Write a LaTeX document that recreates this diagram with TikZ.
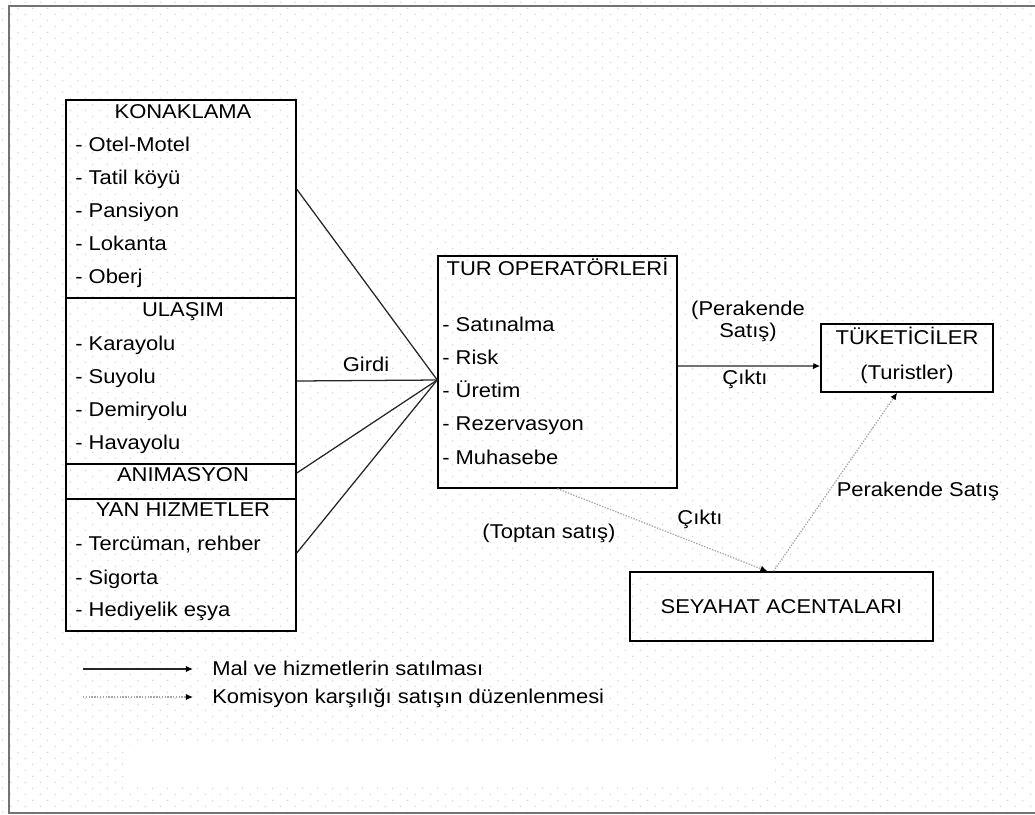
\documentclass[tikz,border=0pt]{standalone}
\usepackage{fontspec}
\setmainfont{Liberation Sans}[FakeStretch=1.1]
\usetikzlibrary{arrows.meta,patterns.meta}

\tikzdeclarepattern{
	name=pagedots,
	type=uncolored,
	bottom left={(0pt,0pt)},
	top right={(10.6pt,8.5pt)},
	tile size={(10.6pt,8.5pt)},
	code={
		\fill (2pt,2pt) circle (0.45pt);
		\fill (7.3pt,6.25pt) circle (0.45pt);
	}
}

\begin{document}
\begin{tikzpicture}[x=0.025cm, y=-0.025cm, font=\fontsize{14.2pt}{17pt}\selectfont,
	box/.style = {draw, line width=1pt, inner sep=0pt},
	item/.style = {anchor=base west, inner sep=0pt},
	head/.style = {anchor=base, inner sep=0pt},
	sale/.style = {line width=0.9pt, draw=black!85},
	comm/.style = {line width=0.9pt, draw=gray!70, dash pattern=on 1pt off 1pt},
	tip/.style = {-{Latex[length=5pt,width=4.5pt,color=black]}}]
		\useasboundingbox (0,0) rectangle (1035,815);
		\fill[pattern=pagedots, pattern color=gray!50] (0,0) rectangle (1035,815);
		\fill[white] (130,746) rectangle (775,785);
		\draw[line width=1.2pt, draw=black!55] (1035,6) -- (9,6) -- (9,813) -- (1035,813);
		
		\node[box, minimum width=5.75cm, minimum height=4.95cm] (kon) at (181,199) {};
		\node[box, minimum width=5.75cm, minimum height=4.15cm] (ula) at (181,381) {};
		\node[box, minimum width=5.75cm, minimum height=0.875cm] (anim) at (181,481.5) {};
		\node[box, minimum width=5.75cm, minimum height=3.3cm] (yan) at (181,565) {};
		
		\node[head] (konh) at (183,118) {KONAKLAMA};
		\node[item] (kon1) at (75,151) {- Otel-Motel};
		\node[item] (kon2) at (75,184) {- Tatil köyü};
		\node[item] (kon3) at (75,217) {- Pansiyon};
		\node[item] (kon4) at (75,250) {- Lokanta};
		\node[item] (kon5) at (75,283) {- Oberj};
		
		\node[head] (ulah) at (183,316) {ULAŞIM};
		\node[item] (ula1) at (75,350) {- Karayolu};
		\node[item] (ula2) at (75,383) {- Suyolu};
		\node[item] (ula3) at (75,416) {- Demiryolu};
		\node[item] (ula4) at (75,449) {- Havayolu};
		
		\node[head] (animh) at (183,481) {ANIMASYON};
		
		\node[head] (yanh) at (183,516) {YAN HIZMETLER};
		\node[item] (yan1) at (75,550) {- Tercüman, rehber};
		\node[item] (yan2) at (75,584) {- Sigorta};
		\node[item] (yan3) at (75,616) {- Hediyelik eşya};
		
		\node[box, minimum width=5.975cm, minimum height=5.8cm] (tur) at (557.5,372) {};
		\node[head] (turh) at (557.5,275) {TUR OPERATÖRLERİ};
		\node[item] (tur1) at (442,331) {- Satınalma};
		\node[item] (tur2) at (442,364) {- Risk};
		\node[item] (tur3) at (442,397) {- Üretim};
		\node[item] (tur4) at (442,430) {- Rezervasyon};
		\node[item] (tur5) at (442,464) {- Muhasebe};
		
		\node[box, minimum width=4.3cm, minimum height=1.7cm] (tuk) at (907,358) {};
		\node[head] (tukh) at (907,344) {TÜKETİCİLER};
		\node[head] (tuk1) at (907,379) {(Turistler)};
		
		\node[box, minimum width=7.575cm, minimum height=1.725cm] (sa) at (781.5,606.5) {SEYAHAT ACENTALARI};
		
		\draw[sale] ([yshift=7pt]kon.east) -- ([yshift=-5.7pt]tur.west);
		\draw[sale] (ula.east) -- ([yshift=-5.7pt]tur.west);
		\draw[sale] ([yshift=6pt]anim.east) -- ([yshift=-5.7pt]tur.west);
		\draw[sale] ([yshift=8.5pt]yan.east) -- ([yshift=-5.7pt]tur.west);
		\draw[sale, tip] ([yshift=4.3pt]tur.east) -- ([yshift=-5.7pt]tuk.west);
		\draw[comm, tip] (tur.south) -- ([xshift=-10pt]sa.north);
		\draw[comm, tip] ([xshift=-5.7pt]sa.north) -- ([xshift=-7pt]tuk.south);
		
		\node[head] (girdi) at (366,371) {Girdi};
		\node[head] (per1) at (748,315) {(Perakende};
		\node[head] (per2) at (748,337) {Satış)};
		\node[head] (cik1) at (745,384) {Çıktı};
		\node[head] (per3) at (918,496) {Perakende Satış};
		\node[head] (cik2) at (700,524) {Çıktı};
		\node[head] (top) at (549,538) {(Toptan satış)};
		
		\coordinate (l1) at (83,669);
		\coordinate (l2) at (193,669);
		\coordinate (l3) at (83,697);
		\coordinate (l4) at (193,697);
		\draw[sale, tip] (l1) -- (l2);
		\draw[comm, tip] (l3) -- (l4);
		\node[item] (leg1) at (212,675) {Mal ve hizmetlerin satılması};
		\node[item] (leg2) at (212,703) {Komisyon karşılığı satışın düzenlenmesi};
		
	\end{tikzpicture}
\end{document}
